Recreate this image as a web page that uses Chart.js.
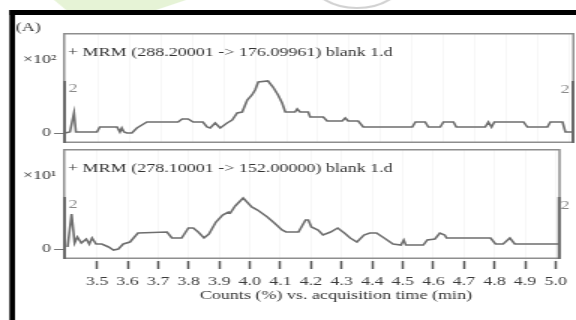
<!DOCTYPE html>
<html><head><meta charset="utf-8">
<script src="https://cdn.jsdelivr.net/npm/chart.js@4"></script>
<style>
html,body{margin:0;padding:0;background:#fff;}
#wrap{position:relative;width:576px;height:320px;overflow:hidden;background:#fff;}
#wrap canvas{position:absolute;left:0;top:0;width:576px;height:320px;}
</style></head><body>
<div id="wrap">
<canvas id="c1" width="384" height="320" style="width:576px;height:320px"></canvas>
<canvas id="c2" width="384" height="320" style="width:576px;height:320px"></canvas>
</div>
<script>
// ---- data ----
const xTickValues = [3.5,3.6,3.7,3.8,3.9,4.0,4.1,4.2,4.3,4.4,4.5,4.6,4.7,4.8,4.9,5.0];
const panelTitles = ['+ MRM (288.20001 -> 176.09961) blank 1.d', '+ MRM (278.10001 -> 152.00000) blank 1.d'];
const scaleLabels = ['\u00d710\u00b2', '\u00d710\u00b9'];
const fullScaleLabels = ['2', '2'];
const yTickValues = [0];
const figureLabel = '(A)';
const xAxisTitle = 'Counts (%) vs. acquisition time (min)';

const times1 = [3.395,3.411,3.424,3.430,3.497,3.506,3.561,3.570,3.576,3.583,3.592,3.608,3.624,3.656,3.755,3.768,3.787,3.803,3.834,3.847,3.857,3.873,3.889,3.911,3.927,3.943,3.959,3.975,3.990,4.000,4.010,4.041,4.057,4.073,4.086,4.096,4.127,4.134,4.143,4.169,4.175,4.217,4.229,4.277,4.287,4.296,4.328,4.344,4.500,4.510,4.541,4.551,4.589,4.599,4.631,4.640,4.732,4.742,4.752,4.761,4.854,4.866,4.930,4.939,4.978,4.987,5.013];
const counts1 = [0,0.04,0.8,0.04,0.04,0.24,0.24,0.04,0.2,0.04,0,0,0.2,0.44,0.44,0.56,0.56,0.44,0.44,0.24,0.2,0.4,0.2,0.4,0.52,0.8,0.84,1.32,1.52,1.72,2.04,2.08,1.84,1.52,1.2,0.84,0.84,0.96,0.84,0.84,0.64,0.64,0.48,0.48,0.6,0.48,0.48,0.24,0.24,0.44,0.44,0.24,0.24,0.44,0.44,0.24,0.24,0.44,0.24,0.44,0.44,0.24,0.24,0.44,0.44,0.04,0.04];

const times2 = [3.404,3.417,3.427,3.436,3.449,3.465,3.475,3.484,3.497,3.516,3.538,3.554,3.570,3.586,3.608,3.634,3.729,3.745,3.777,3.799,3.815,3.831,3.850,3.866,3.889,3.911,3.930,3.936,3.952,3.978,4.006,4.025,4.057,4.080,4.105,4.118,4.159,4.182,4.191,4.201,4.223,4.239,4.264,4.287,4.309,4.328,4.350,4.373,4.392,4.414,4.439,4.468,4.494,4.503,4.510,4.567,4.580,4.605,4.621,4.637,4.643,4.787,4.803,4.828,4.850,4.866,5.010];
const counts2 = [0.08,1.4,0.24,0.48,0.24,0.4,0.2,0.44,0.2,0.2,0.08,-0.04,0,0.2,0.28,0.64,0.68,0.44,0.44,0.84,0.84,0.68,0.44,0.6,1.08,1.36,1.48,1.44,1.72,2.04,1.68,1.56,1.28,1.04,0.76,0.68,0.68,1.16,1.16,0.88,0.76,0.56,0.68,0.84,0.64,0.44,0.28,0.56,0.64,0.64,0.44,0.2,0.16,0.36,0.16,0.16,0.36,0.4,0.64,0.56,0.44,0.44,0.2,0.2,0.44,0.2,0.2];

const X_MIN = 3.389, X_MAX = 5.016;
const FULL_SCALE = 2.08;   // top of the scale bar
// -------------------------------------

const SERIF = '"Liberation Serif", "Times New Roman", serif';

const panelDeco = {
  id: 'panelDeco',
  beforeDraw(chart, args, o) {
    if (!o.frame) return;
    const ctx = chart.ctx;
    ctx.save();
    // faint watermark remnants above the frame
    ctx.fillStyle = '#e6f3d6';
    ctx.beginPath();
    ctx.moveTo(36, 0); ctx.lineTo(124, 0); ctx.lineTo(104, 10); ctx.lineTo(44, 10); ctx.closePath();
    ctx.fill();
    ctx.strokeStyle = '#d2d2d2'; ctx.lineWidth = 2;
    ctx.beginPath(); ctx.ellipse(238, -24, 32, 32, 0, 0.25 * Math.PI, 0.8 * Math.PI); ctx.stroke();
    // black frame
    ctx.fillStyle = '#000';
    ctx.fillRect(6.3, 10, 384, 5);
    ctx.fillRect(6.3, 10, 3.7, 310);
    ctx.font = '12px ' + SERIF; ctx.fillStyle = '#333';
    ctx.textAlign = 'left'; ctx.textBaseline = 'middle';
    ctx.fillText(figureLabel, 10.5, 28);
    ctx.restore();
  },
  afterDatasetsDraw(chart, args, o) {
    const {ctx, chartArea: a, scales: {y}} = chart;
    ctx.save();
    const boxBottom = y.getPixelForValue(o.boxMin);
    ctx.strokeStyle = '#8e8e8e'; ctx.lineWidth = 1.5;
    ctx.strokeRect(a.left + 0.75, a.top + 0.75, a.right - a.left - 1.5, boxBottom - a.top - 1.5);
    const yTop = y.getPixelForValue(FULL_SCALE);
    ctx.fillStyle = '#6a6a6a';
    ctx.fillRect(a.left, yTop, 2, boxBottom - yTop);
    ctx.fillRect(a.right - 2, yTop, 2, boxBottom - yTop);
    ctx.font = '12px ' + SERIF; ctx.textBaseline = 'middle';
    ctx.fillStyle = '#333'; ctx.textAlign = 'left';
    ctx.fillText(o.title, a.left + 3.3, a.top + 20);
    ctx.fillText(o.scaleLabel, 15.3, a.top + 27);
    ctx.fillStyle = '#8a8a8a'; ctx.textAlign = 'center';
    ctx.fillText(o.fullLabel, 48.7, yTop + 8);
    ctx.fillText(o.fullLabel, 376.7, yTop + 9);
    if (o.axisTitle) {
      ctx.fillStyle = '#333';
      ctx.fillText(o.axisTitle, 224, 296);
    }
    ctx.restore();
  }
};

function makeChart(id, times, counts, idx, isBottom) {
  const yMin = isBottom ? -0.48 : -0.4;
  return new Chart(document.getElementById(id), {
    type: 'line',
    data: { datasets: [{
      data: times.map((t, i) => ({x: t, y: counts[i]})),
      borderColor: '#6e6e6e', borderWidth: 1.6, pointRadius: 0, tension: 0, fill: false
    }]},
    options: {
      responsive: false, animation: false, devicePixelRatio: 1,
      layout: { padding: { left: 0, right: 1, top: isBottom ? 149 : 33, bottom: isBottom ? 0 : 177 } },
      plugins: {
        legend: { display: false }, tooltip: { enabled: false },
        panelDeco: { frame: !isBottom, title: panelTitles[idx], scaleLabel: scaleLabels[idx],
          fullLabel: fullScaleLabels[idx], boxMin: -0.4, axisTitle: isBottom ? xAxisTitle : null }
      },
      scales: {
        x: {
          type: 'linear', min: X_MIN, max: X_MAX,
          afterBuildTicks(s) { s.ticks = xTickValues.map(v => ({value: v})); },
          afterFit(s) { s.height = isBottom ? 59 : 0; },
          ticks: { display: isBottom, autoSkip: false, maxRotation: 0, padding: 6,
            color: '#3a3a3a', font: { family: SERIF, size: 12 },
            callback: v => Number(v).toFixed(1) },
          grid: { color: 'rgba(0,0,0,0.035)', drawTicks: isBottom, tickLength: 8, tickColor: '#555', tickWidth: 1.5 },
          border: { display: false }
        },
        y: {
          min: yMin, max: 4.0,
          afterBuildTicks(s) { s.ticks = yTickValues.map(v => ({value: v})); },
          afterFit(s) { s.width = 42; },
          ticks: { color: '#444', font: { family: SERIF, size: 12 }, padding: 2 },
          grid: { drawOnChartArea: false, tickLength: 6, tickColor: '#777', tickWidth: 1 },
          border: { display: false }
        }
      }
    },
    plugins: [panelDeco]
  });
}

makeChart('c1', times1, counts1, 0, false);
makeChart('c2', times2, counts2, 1, true);
</script>
</body></html>
